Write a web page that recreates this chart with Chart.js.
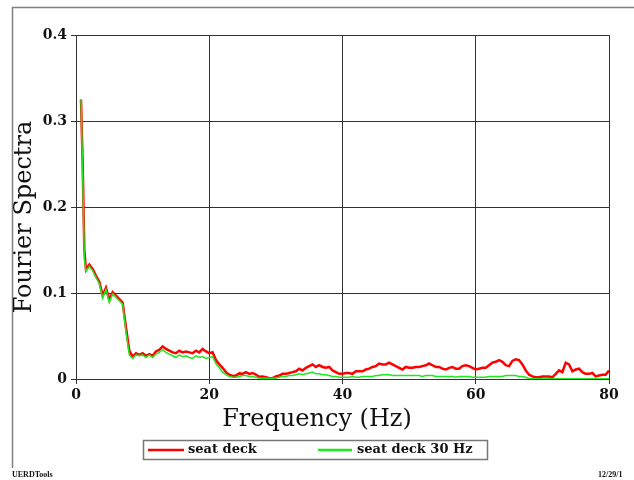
<!DOCTYPE html>
<html>
<head>
<meta charset="utf-8">
<script src="https://cdn.jsdelivr.net/npm/chart.js@4.4.1/dist/chart.umd.min.js"></script>
<style>
  html, body { margin: 0; padding: 0; background: #ffffff; }
  canvas { display: block; }
</style>
</head>
<body>
<canvas id="spectra" width="634" height="480"></canvas>
<script>
// Frequency bins (Hz)
const frequency = [
  0.75, 1, 1.25,
  1.5, 2, 2.5, 3, 3.5, 4, 4.5, 5,
  5.5, 6, 6.5, 7, 7.5, 8, 8.5, 9, 9.5, 10,
  10.5, 11, 11.5, 12, 12.5, 13, 13.5, 14, 14.5, 15,
  15.5, 16, 16.5, 17, 17.5, 18, 18.5, 19, 19.5, 20,
  20.5, 21, 21.5, 22, 22.5, 23, 23.5, 24, 24.5, 25,
  25.5, 26, 26.5, 27, 27.5, 28, 28.5, 29, 29.5, 30,
  30.5, 31, 31.5, 32, 32.5, 33, 33.5, 34, 34.5, 35,
  35.5, 36, 36.5, 37, 37.5, 38, 38.5, 39, 39.5, 40,
  40.5, 41, 41.5, 42, 42.5, 43, 43.5, 44, 44.5, 45,
  45.5, 46, 46.5, 47, 47.5, 48, 48.5, 49, 49.5, 50,
  50.5, 51, 51.5, 52, 52.5, 53, 53.5, 54, 54.5, 55,
  55.5, 56, 56.5, 57, 57.5, 58, 58.5, 59, 59.5, 60,
  60.5, 61, 61.5, 62, 62.5, 63, 63.5, 64, 64.5, 65,
  65.5, 66, 66.5, 67, 67.5, 68, 68.5, 69, 69.5, 70,
  70.5, 71, 71.5, 72, 72.5, 73, 73.5, 74, 74.5, 75,
  75.5, 76, 76.5, 77, 77.5, 78, 78.5, 79, 79.5, 80
];

// Fourier amplitude, seat deck (raw)
const seatDeck = [
  0.325, 0.25, 0.15,
  0.127, 0.133, 0.128, 0.120, 0.113, 0.097, 0.106, 0.092,
  0.101, 0.097, 0.093, 0.089, 0.060, 0.033, 0.026, 0.030, 0.028, 0.030,
  0.027, 0.029, 0.027, 0.032, 0.034, 0.038, 0.035, 0.033, 0.031, 0.030,
  0.033, 0.031, 0.032, 0.031, 0.030, 0.033, 0.031, 0.035, 0.032, 0.030,
  0.031, 0.022, 0.017, 0.013, 0.008, 0.005, 0.0035, 0.004, 0.0065, 0.006,
  0.008, 0.006, 0.007, 0.005, 0.0025, 0.003, 0.002, 0.001, 0.001, 0.003,
  0.004, 0.006, 0.006, 0.007, 0.008, 0.009, 0.012, 0.010, 0.013, 0.015,
  0.017, 0.014, 0.016, 0.014, 0.013, 0.014, 0.010, 0.008, 0.006, 0.006,
  0.007, 0.007, 0.006, 0.009, 0.009, 0.009, 0.011, 0.012, 0.014, 0.015,
  0.018, 0.017, 0.017, 0.019, 0.017, 0.015, 0.013, 0.011, 0.014, 0.013,
  0.013, 0.014, 0.014, 0.015, 0.016, 0.018, 0.016, 0.014, 0.014, 0.012,
  0.011, 0.013, 0.014, 0.012, 0.012, 0.015, 0.016, 0.015, 0.013, 0.011,
  0.012, 0.013, 0.013, 0.016, 0.019, 0.020, 0.022, 0.020, 0.016, 0.015,
  0.021, 0.023, 0.022, 0.017, 0.010, 0.005, 0.003, 0.002, 0.002, 0.003,
  0.003, 0.003, 0.002, 0.006, 0.010, 0.008, 0.019, 0.017, 0.009, 0.011,
  0.012, 0.008, 0.006, 0.006, 0.007, 0.003, 0.004, 0.005, 0.005, 0.010
];

// Fourier amplitude, seat deck low-passed at 30 Hz
const seatDeck30 = [
  0.325, 0.24, 0.14,
  0.125, 0.131, 0.126, 0.118, 0.111, 0.094, 0.104, 0.089,
  0.099, 0.095, 0.091, 0.087, 0.055, 0.028, 0.024, 0.028, 0.027, 0.028,
  0.025, 0.028, 0.025, 0.029, 0.031, 0.034, 0.031, 0.029, 0.027, 0.025,
  0.028, 0.026, 0.027, 0.025, 0.024, 0.027, 0.025, 0.026, 0.024, 0.025,
  0.026, 0.018, 0.013, 0.008, 0.005, 0.003, 0.002, 0.002, 0.003, 0.004,
  0.004, 0.003, 0.003, 0.002, 0.001, 0.001, 0.0008, 0.0006, 0.0008, 0.001,
  0.002, 0.003, 0.003, 0.004, 0.004, 0.005, 0.006, 0.005, 0.006, 0.007,
  0.008, 0.006, 0.006, 0.005, 0.005, 0.004, 0.003, 0.003, 0.002, 0.002,
  0.002, 0.002, 0.003, 0.002, 0.002, 0.003, 0.003, 0.003, 0.003, 0.004,
  0.004, 0.005, 0.005, 0.005, 0.004, 0.004, 0.004, 0.004, 0.004, 0.004,
  0.004, 0.004, 0.004, 0.003, 0.004, 0.004, 0.004, 0.003, 0.003, 0.003,
  0.003, 0.003, 0.003, 0.002, 0.003, 0.003, 0.003, 0.003, 0.002, 0.002,
  0.002, 0.002, 0.002, 0.003, 0.003, 0.003, 0.003, 0.003, 0.004, 0.004,
  0.004, 0.004, 0.003, 0.003, 0.002, 0.0005, 0.0003, 0.0003, 0.0003, 0.0003,
  0.0003, 0.0003, 0.0003, 0.0003, 0.0003, 0.0003, 0.0003, 0.0003, 0.0003, 0.0003,
  0.0003, 0.0003, 0.0003, 0.0003, 0.0003, 0.0003, 0.0003, 0.0003, 0.0003, 0.0003
];

const seriesNames = ['seat deck', 'seat deck 30 Hz'];
const xTicks = [0, 20, 40, 60, 80];
const yTicks = [0, 0.1, 0.2, 0.3, 0.4];
const xTitle = 'Frequency (Hz)';
const yTitle = 'Fourier Spectra';
const footerLeft = 'UERDTools';
const footerRight = '12/29/1';

const SERIF = '"DejaVu Serif", "Liberation Serif", serif';

function pairs(values) {
  return frequency.map((f, i) => ({ x: f, y: values[i] }));
}

// Page frame, axis titles, boxed legend and footer
const decorations = {
  id: 'decorations',
  afterDraw(chart) {
    const ctx = chart.ctx;
    const area = chart.chartArea;
    ctx.save();

    // outer frame (open on the right and bottom)
    ctx.strokeStyle = '#808080';
    ctx.lineWidth = 1.5;
    ctx.beginPath();
    ctx.moveTo(634, 7.5);
    ctx.lineTo(12.5, 7.5);
    ctx.lineTo(12.5, 468);
    ctx.stroke();

    ctx.fillStyle = '#111';
    ctx.textAlign = 'center';
    ctx.textBaseline = 'middle';
    ctx.font = '24px ' + SERIF;
    ctx.fillText(xTitle, 317, 420);

    ctx.save();
    ctx.translate(25, 217);
    ctx.rotate(-Math.PI / 2);
    ctx.fillText(yTitle, 0, 0);
    ctx.restore();

    // legend
    ctx.strokeStyle = '#777';
    ctx.lineWidth = 1.5;
    ctx.strokeRect(143.5, 440.5, 344, 19);
    const entries = [
      { x0: 148, x1: 184, tx: 188 },
      { x0: 318, x1: 352, tx: 357 }
    ];
    ctx.textAlign = 'left';
    ctx.font = 'bold 13px ' + SERIF;
    chart.data.datasets.forEach((ds, i) => {
      const e = entries[i];
      ctx.strokeStyle = ds.borderColor;
      ctx.lineWidth = 2.5;
      ctx.beginPath();
      ctx.moveTo(e.x0, 450);
      ctx.lineTo(e.x1, 450);
      ctx.stroke();
      ctx.fillStyle = '#111';
      ctx.fillText(ds.label, e.tx, 450);
    });

    // footer
    ctx.font = 'bold 8px "Liberation Serif", serif';
    ctx.fillText(footerLeft, 12, 475);
    ctx.fillText(footerRight, 598, 475);

    ctx.restore();
  }
};

new Chart(document.getElementById('spectra'), {
  type: 'line',
  data: {
    datasets: [
      {
        label: seriesNames[0],
        data: pairs(seatDeck),
        borderColor: '#ff0000',
        borderWidth: 2.5,
        pointRadius: 0,
        tension: 0,
        order: 2
      },
      {
        label: seriesNames[1],
        data: pairs(seatDeck30),
        borderColor: '#1ee81e',
        borderWidth: 1.5,
        pointRadius: 0,
        tension: 0,
        order: 1
      }
    ]
  },
  options: {
    responsive: false,
    animation: false,
    events: [],
    layout: { padding: { left: 0, right: 25, top: 35, bottom: 71 } },
    plugins: {
      legend: { display: false },
      tooltip: { enabled: false },
      title: { display: false }
    },
    scales: {
      x: {
        type: 'linear',
        min: 0,
        max: 80,
        afterFit(scale) { scale.height = 30; },
        afterBuildTicks(scale) { scale.ticks = xTicks.map(v => ({ value: v })); },
        grid: { color: '#333', lineWidth: 1, tickLength: 5, drawTicks: true },
        border: { display: true, color: '#333', width: 1 },
        ticks: {
          color: '#111',
          padding: 3,
          maxRotation: 0,
          font: { family: SERIF, size: 14, weight: 'bold' }
        }
      },
      y: {
        type: 'linear',
        min: 0,
        max: 0.4,
        afterFit(scale) { scale.width = 76; },
        afterBuildTicks(scale) { scale.ticks = yTicks.map(v => ({ value: v })); },
        grid: { color: '#333', lineWidth: 1, tickLength: 5, drawTicks: true },
        border: { display: true, color: '#333', width: 1 },
        ticks: {
          color: '#111',
          padding: 4,
          font: { family: SERIF, size: 14, weight: 'bold' },
          callback: v => String(v)
        }
      }
    }
  },
  plugins: [decorations]
});
</script>
</body>
</html>
